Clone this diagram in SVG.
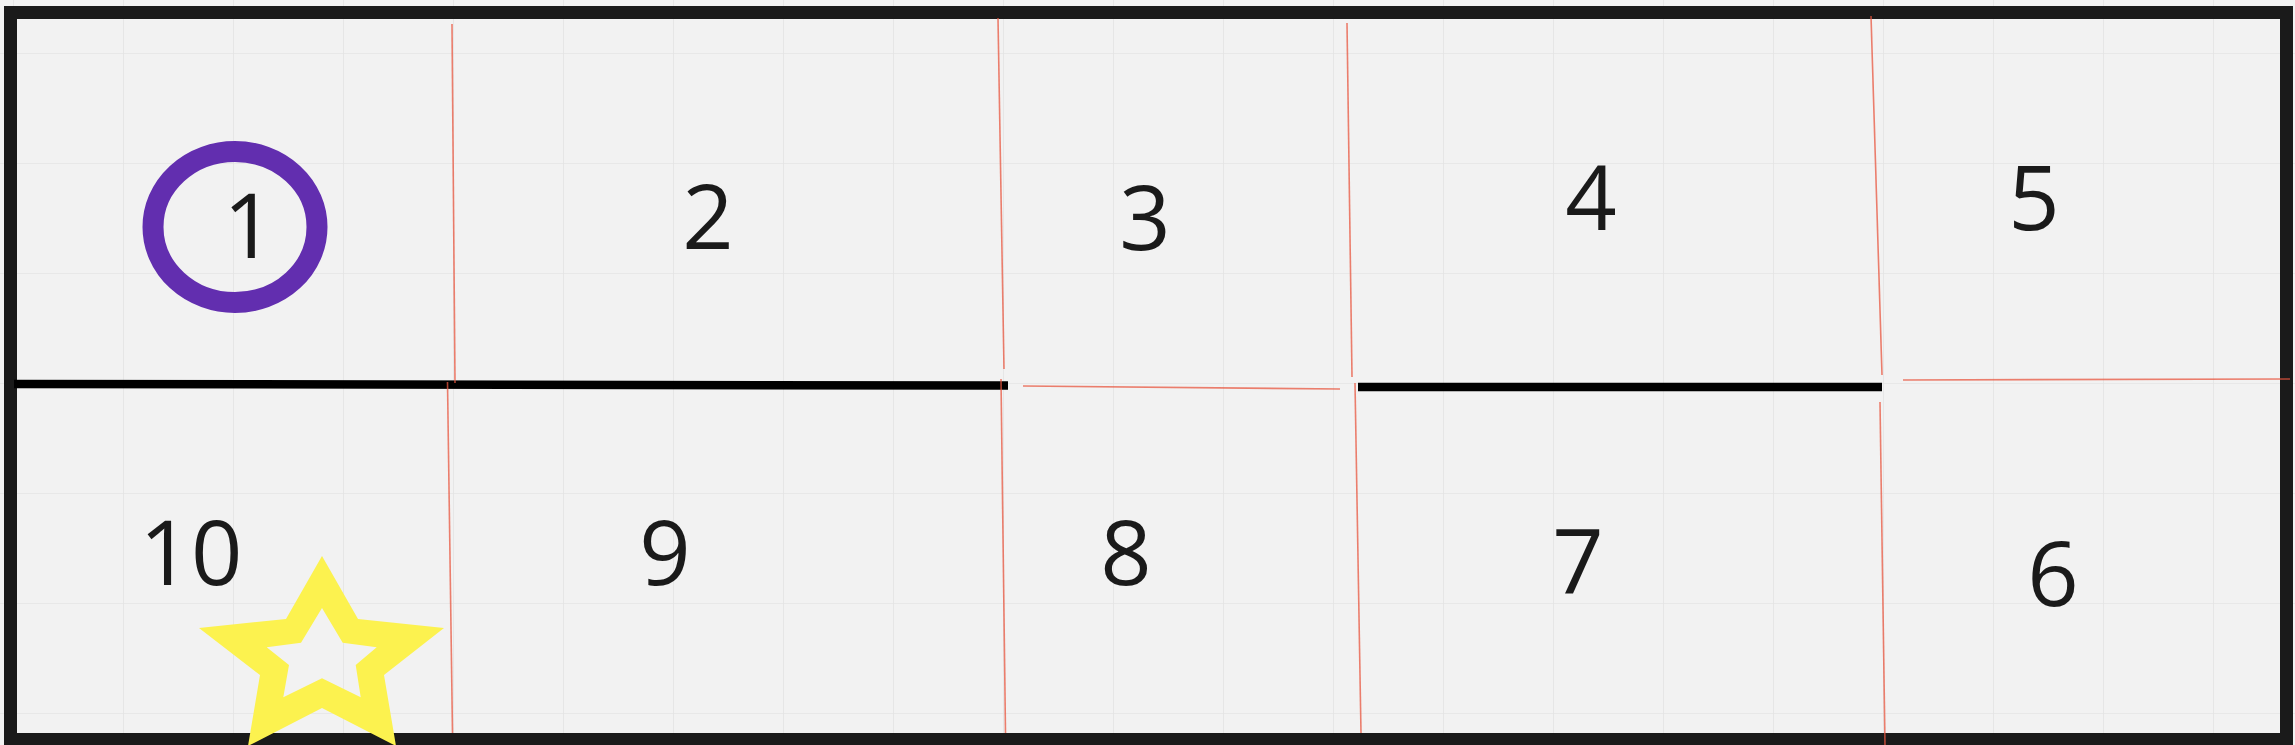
<svg xmlns="http://www.w3.org/2000/svg" width="2295" height="745" viewBox="0 0 2295 745">
  <defs>
    <style>
      .grid { stroke: #e4e4e4; stroke-width: 1.6; }
      .guide { stroke: #e8553f; stroke-width: 1.6; stroke-opacity: 0.75; fill: none; }
      .wall { stroke: #000000; stroke-width: 8.5; stroke-linecap: butt; fill: none; }
      .lbl { font-family: "Open Sans", "Noto Sans", "Liberation Sans", sans-serif; font-size: 90px; fill: #1a1a1a; text-anchor: middle; }
    </style>
    <pattern id="gridpat" x="13" y="53" width="110" height="110" patternUnits="userSpaceOnUse">
      <line class="grid" x1="0" y1="0" x2="0" y2="110"/>
      <line class="grid" x1="0" y1="0" x2="110" y2="0"/>
    </pattern>
  </defs>

  <rect x="0" y="0" width="2295" height="745" fill="#f2f2f2"/>
  <rect x="0" y="0" width="2295" height="745" fill="url(#gridpat)"/>

  <g id="frame">
    <rect x="10.5" y="12.5" width="2276" height="727" fill="none" stroke="#1a1a1a" stroke-width="13"/>
  </g>

  <g id="walls">
    <line class="wall" x1="14" y1="384" x2="1008" y2="385.5"/>
    <line class="wall" x1="1358" y1="387" x2="1882" y2="387"/>
  </g>

  <g id="connectors">
    <line class="guide" x1="452" y1="24" x2="455" y2="383"/>
    <line class="guide" x1="447.5" y1="382" x2="452.5" y2="733"/>
    <line class="guide" x1="998" y1="18" x2="1004" y2="369"/>
    <line class="guide" x1="1001" y1="379" x2="1005.5" y2="733"/>
    <line class="guide" x1="1023" y1="386" x2="1340" y2="389"/>
    <line class="guide" x1="1347" y1="23" x2="1352" y2="377"/>
    <line class="guide" x1="1355" y1="383" x2="1361" y2="733"/>
    <line class="guide" x1="1871" y1="16" x2="1882" y2="375"/>
    <line class="guide" x1="1880" y1="402" x2="1885" y2="745"/>
    <line class="guide" x1="1903" y1="380" x2="2290" y2="379"/>
  </g>

  <g id="marker-circle">
    <ellipse cx="235" cy="227" rx="82" ry="75.5" fill="none" stroke="#622eaf" stroke-width="21"/>
  </g>

  <g id="cell-1"><text class="lbl" x="249" y="258">1</text></g>
  <g id="cell-2"><text class="lbl" x="708" y="249">2</text></g>
  <g id="cell-3"><text class="lbl" x="1145" y="250">3</text></g>
  <g id="cell-4"><text class="lbl" x="1591" y="230">4</text></g>
  <g id="cell-5"><text class="lbl" x="2034" y="230">5</text></g>
  <g id="cell-6"><text class="lbl" x="2053" y="606">6</text></g>
  <g id="cell-7"><text class="lbl" x="1578" y="594">7</text></g>
  <g id="cell-8"><text class="lbl" x="1126" y="585">8</text></g>
  <g id="cell-9"><text class="lbl" x="665" y="585">9</text></g>
  <g id="cell-10"><text class="lbl" x="191" y="585">10</text></g>

  <g id="marker-star">
    <path fill="#fcf24f" fill-rule="evenodd" d="M322,556 L358,619 L444,628 L384,675 L396,746 L322,708 L248,746 L260,675 L199,628 L286,619 Z M322,608 L301,642.7 L266.7,647.3 L289,665 L283.3,697.3 L322,678.3 L360.7,697.3 L355.7,665 L376.7,647.3 L342.7,642.7 Z"/>
  </g>
</svg>
